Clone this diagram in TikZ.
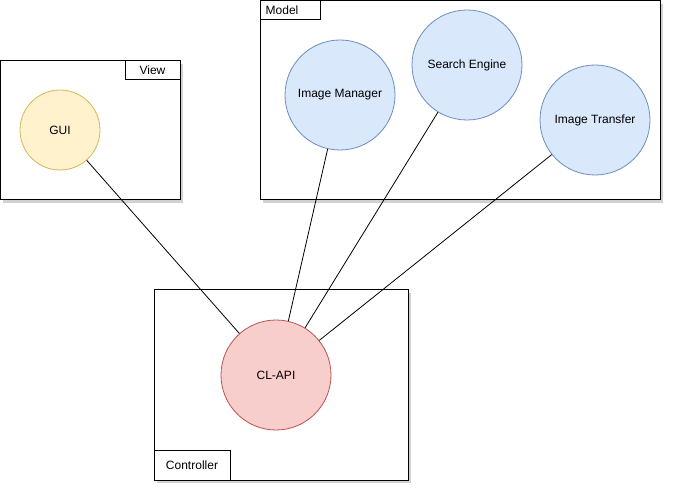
\documentclass[tikz,border=0pt]{standalone}
\usepackage{fontspec}
\setmainfont{Liberation Sans}
\begin{document}
\begin{tikzpicture}[x=1pt,y=-1pt,
  frame/.style={draw=black,line width=1pt,fill=white,inner sep=0pt},
  shadowbox/.style={fill=black!18},
  tag/.style={draw=black,line width=1pt,fill=white,inner sep=0pt,font=\fontsize{12}{14}\selectfont},
  yellowc/.style={circle,draw={rgb,255:red,214;green,182;blue,86},fill={rgb,255:red,255;green,242;blue,204},line width=0.8pt,inner sep=0pt,font=\fontsize{12}{14}\selectfont},
  bluec/.style={circle,draw={rgb,255:red,108;green,142;blue,191},fill={rgb,255:red,218;green,232;blue,252},line width=0.8pt,inner sep=0pt,font=\fontsize{12}{14}\selectfont},
  redc/.style={circle,draw={rgb,255:red,184;green,84;blue,80},fill={rgb,255:red,248;green,206;blue,204},line width=0.8pt,inner sep=0pt,font=\fontsize{12}{14}\selectfont},
  conn/.style={draw=black,line width=0.8pt}]
\useasboundingbox (0,0) rectangle (673,492);
\fill[white] (0,0) rectangle (673,492);
% shadows
\fill[shadowbox] (3,64) rectangle (183,203);
\fill[shadowbox] (263,4) rectangle (663,203);
\fill[shadowbox] (157,293) rectangle (411,483);
% frames
\draw[frame] (0.5,61) rectangle (180,200);
\node[tag,minimum width=55pt,minimum height=19pt] (viewtag) at (152.5,70.5) {View};
\draw[frame] (260,1) rectangle (660,200);
\node[tag,minimum width=60pt,minimum height=19pt] (modeltag) at (290,10.5) {\hspace*{-16pt}Model};
\draw[frame] (154,290) rectangle (408,480);
\node[tag,minimum width=76pt,minimum height=30pt] (ctrltag) at (192,465) {Controller};
% circles
\node[yellowc,minimum size=80pt] (gui) at (60,130) {GUI};
\node[bluec,minimum size=110pt] (im) at (340,95) {Image Manager};
\node[bluec,minimum size=110pt] (se) at (467,65) {Search Engine};
\node[bluec,minimum size=110pt] (it) at (595,120) {Image Transfer};
\node[redc,minimum size=110pt] (api) at (276,375) {CL-API};
% connectors
\draw[conn] (gui) -- (api);
\draw[conn] (im) -- (api);
\draw[conn] (se) -- (api);
\draw[conn] (it) -- (api);
\end{tikzpicture}
\end{document}
